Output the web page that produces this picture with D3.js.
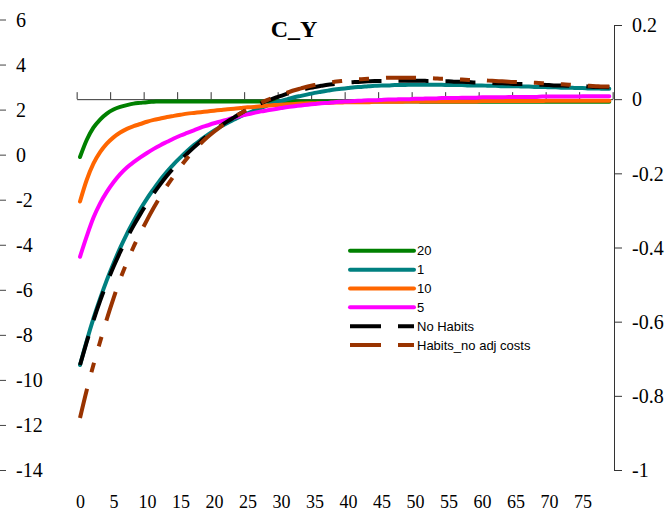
<!DOCTYPE html>
<html>
<head>
<meta charset="utf-8">
<script src="https://cdn.jsdelivr.net/npm/d3@7"></script>
<style>
	body { margin: 0; background: #fff; }
	svg { display: block; }
	.tick text { font-family: "Liberation Serif", "Times New Roman", serif; }
</style>
</head>
<body>
<svg id="chart" width="671" height="512"></svg>
<script>
// C_Y impulse responses, 80 periods

var periods = d3.range(0, 80)
var xTickLabels = d3.range(0, 80, 5)
var leftTicks = [6, 4, 2, 0, -2, -4, -6, -8, -10, -12, -14]
var rightTicks = [0.2, 0, -0.2, -0.4, -0.6, -0.8, -1]

var seriesNames = ['20', '1', '10', '5', 'No Habits', 'Habits_no adj costs']

var green20 = [
	-0.156, -0.110, -0.077, -0.055, -0.039, -0.028, -0.021, -0.016, -0.012, -0.010,
	-0.008, -0.007, -0.006, -0.006, -0.006, -0.006, -0.006, -0.006, -0.006, -0.006,
	-0.006, -0.006, -0.006, -0.006, -0.006, -0.006, -0.006, -0.006, -0.006, -0.006,
	-0.006, -0.006, -0.006, -0.006, -0.006, -0.006, -0.006, -0.006, -0.006, -0.006,
	-0.006, -0.006, -0.006, -0.006, -0.006, -0.006, -0.006, -0.006, -0.006, -0.006,
	-0.006, -0.007, -0.007, -0.007, -0.007, -0.007, -0.007, -0.007, -0.007, -0.007,
	-0.007, -0.007, -0.007, -0.007, -0.007, -0.007, -0.007, -0.007, -0.007, -0.007,
	-0.007, -0.007, -0.007, -0.007, -0.007, -0.007, -0.007, -0.007, -0.007, -0.007]

var teal1 = [
	-0.717, -0.652, -0.592, -0.538, -0.488, -0.443, -0.401, -0.363, -0.329, -0.297,
	-0.268, -0.242, -0.217, -0.195, -0.175, -0.157, -0.140, -0.124, -0.110, -0.097,
	-0.085, -0.074, -0.064, -0.055, -0.046, -0.038, -0.031, -0.024, -0.017, -0.011,
	-0.005, 0.000, 0.005, 0.009, 0.013, 0.017, 0.020, 0.023, 0.026, 0.028,
	0.030, 0.032, 0.033, 0.035, 0.036, 0.037, 0.037, 0.038, 0.038, 0.039,
	0.039, 0.039, 0.039, 0.039, 0.039, 0.038, 0.038, 0.038, 0.037, 0.037,
	0.037, 0.036, 0.036, 0.035, 0.035, 0.035, 0.034, 0.034, 0.033, 0.033,
	0.032, 0.032, 0.031, 0.031, 0.030, 0.030, 0.029, 0.029, 0.028, 0.028]

var orange10 = [
	-0.276, -0.218, -0.174, -0.143, -0.120, -0.103, -0.090, -0.080, -0.073, -0.067,
	-0.061, -0.056, -0.052, -0.048, -0.045, -0.042, -0.039, -0.037, -0.035, -0.033,
	-0.031, -0.029, -0.027, -0.026, -0.024, -0.022, -0.021, -0.019, -0.017, -0.016,
	-0.015, -0.014, -0.013, -0.012, -0.011, -0.011, -0.010, -0.010, -0.009, -0.009,
	-0.008, -0.008, -0.008, -0.008, -0.007, -0.007, -0.007, -0.007, -0.007, -0.006,
	-0.006, -0.006, -0.006, -0.006, -0.006, -0.006, -0.006, -0.006, -0.006, -0.006,
	-0.005, -0.005, -0.005, -0.005, -0.005, -0.005, -0.005, -0.005, -0.005, -0.005,
	-0.004, -0.004, -0.004, -0.004, -0.004, -0.004, -0.004, -0.004, -0.004, -0.004]

var magenta5 = [
	-0.425, -0.370, -0.320, -0.281, -0.250, -0.224, -0.202, -0.184, -0.170, -0.157,
	-0.145, -0.134, -0.124, -0.115, -0.106, -0.098, -0.091, -0.084, -0.077, -0.071,
	-0.065, -0.060, -0.055, -0.050, -0.045, -0.041, -0.037, -0.033, -0.030, -0.027,
	-0.024, -0.021, -0.019, -0.017, -0.015, -0.013, -0.011, -0.010, -0.008, -0.007,
	-0.006, -0.005, -0.004, -0.003, -0.003, -0.002, -0.001, -0.001, 0.000, 0.000,
	0.001, 0.001, 0.002, 0.002, 0.003, 0.003, 0.003, 0.004, 0.004, 0.004,
	0.005, 0.005, 0.005, 0.005, 0.006, 0.006, 0.006, 0.006, 0.006, 0.007,
	0.007, 0.007, 0.007, 0.007, 0.007, 0.008, 0.008, 0.008, 0.008, 0.008]

var noHabits = [
	-0.717, -0.655, -0.597, -0.544, -0.496, -0.452, -0.412, -0.375, -0.341, -0.310,
	-0.281, -0.254, -0.229, -0.206, -0.185, -0.165, -0.147, -0.130, -0.114, -0.099,
	-0.085, -0.072, -0.060, -0.049, -0.038, -0.028, -0.019, -0.011, -0.004, 0.003,
	0.009, 0.015, 0.020, 0.025, 0.029, 0.033, 0.036, 0.039, 0.041, 0.043,
	0.045, 0.046, 0.047, 0.048, 0.049, 0.049, 0.050, 0.050, 0.050, 0.050,
	0.050, 0.050, 0.049, 0.049, 0.048, 0.048, 0.047, 0.047, 0.046, 0.045,
	0.045, 0.044, 0.043, 0.043, 0.042, 0.041, 0.041, 0.040, 0.039, 0.039,
	0.038, 0.037, 0.037, 0.036, 0.035, 0.035, 0.034, 0.033, 0.033, 0.032]

var habitsNoAdj = [
	-0.860, -0.785, -0.717, -0.654, -0.593, -0.537, -0.485, -0.440, -0.398, -0.361,
	-0.326, -0.293, -0.262, -0.233, -0.207, -0.182, -0.159, -0.139, -0.120, -0.103,
	-0.088, -0.074, -0.061, -0.049, -0.038, -0.028, -0.019, -0.010, -0.002, 0.005,
	0.012, 0.018, 0.024, 0.029, 0.034, 0.038, 0.041, 0.044, 0.047, 0.049,
	0.051, 0.053, 0.054, 0.055, 0.056, 0.057, 0.058, 0.058, 0.058, 0.058,
	0.058, 0.057, 0.057, 0.056, 0.055, 0.055, 0.054, 0.053, 0.052, 0.051,
	0.051, 0.050, 0.049, 0.048, 0.047, 0.046, 0.046, 0.045, 0.044, 0.043,
	0.042, 0.041, 0.040, 0.039, 0.038, 0.037, 0.036, 0.035, 0.034, 0.034]

var seriesValues = [green20, teal1, orange10, magenta5, noHabits, habitsNoAdj]
var seriesColors = ['#008000', '#008080', '#ff6600', '#ff00ff', '#000000', '#993300']
var seriesDash = [null, null, null, null, '30,17', '30,17,10,17,10,17']

var serif = 'Liberation Serif'

var svg = d3.select('#chart')

// scales: categories sit between tick marks, like a category axis
var x = d3.scaleLinear().domain([-0.5, 79.5]).range([76.65, 612.65])
var yL = d3.scaleLinear().domain([-14, 6]).range([470, 19.5])
var yR = d3.scaleLinear().domain([-1, 0.2]).range([470, 25])

// title
svg.append('text')
	.attr('x', 294)
	.attr('y', 37)
	.attr('text-anchor', 'middle')
	.attr('font-family', serif)
	.attr('font-size', 24)
	.attr('font-weight', 'bold')
	.text('C_Y')

// left axis, ticks only
var leftAxis = svg.append('g')
	.attr('transform', 'translate(6,0)')
	.call(d3.axisLeft(yL).tickValues(leftTicks).tickSize(6).tickFormat(function(d) { return String(d) }))
	.attr('font-family', serif)
	.attr('font-size', 20)
leftAxis.select('.domain').remove()
leftAxis.selectAll('text')
	.attr('x', 10)
	.attr('dy', '0.34em')
	.attr('text-anchor', 'start')
	.attr('fill', '#000')
leftAxis.selectAll('line').attr('stroke', '#444')

// right axis
var rightAxis = svg.append('g')
	.attr('transform', 'translate(614,0)')
	.call(d3.axisRight(yR).tickValues(rightTicks).tickSize(8).tickPadding(10)
		.tickFormat(function(d) { return String(+d.toFixed(1)) }))
	.attr('font-family', serif)
	.attr('font-size', 20)
rightAxis.select('.domain')
	.attr('d', 'M0.5,' + yR(0.2) + 'V' + yR(-1))
	.attr('stroke', '#333')
rightAxis.selectAll('line').attr('stroke', '#333')
rightAxis.selectAll('text')
	.attr('dy', '0.34em')
	.attr('fill', '#000')

// horizontal axis crossing at 0 of the right scale
var xAxis = svg.append('g')
	.attr('transform', 'translate(0,' + yR(0) + ')')
	.call(d3.axisTop(x).tickValues(xTickLabels.map(function(d) { return d - 0.5 }).concat([79.5]))
		.tickSize(7).tickSizeOuter(0).tickFormat(''))
xAxis.select('.domain').attr('stroke', '#333')
xAxis.selectAll('line').attr('stroke', '#333')

// category labels along the bottom
var xLabels = svg.append('g')
	.attr('transform', 'translate(0,508)')
	.call(d3.axisBottom(x).tickValues(xTickLabels).tickSize(0).tickPadding(0))
	.attr('font-family', serif)
	.attr('font-size', 18)
xLabels.select('.domain').remove()
xLabels.selectAll('text')
	.attr('y', 0)
	.attr('dy', '0em')
	.attr('fill', '#000')

// series
var line = d3.line()
	.x(function(d, i) { return x(periods[i]) })
	.y(function(d) { return yR(d) })
	.curve(d3.curveMonotoneX)

svg.append('g')
	.selectAll('path')
	.data(seriesValues)
	.enter()
	.append('path')
	.attr('d', line)
	.attr('fill', 'none')
	.attr('stroke', function(d, i) { return seriesColors[i] })
	.attr('stroke-width', 4)
	.attr('stroke-linecap', function(d, i) { return seriesDash[i] ? 'butt' : 'round' })
	.attr('stroke-dasharray', function(d, i) { return seriesDash[i] })

// legend
var legend = svg.append('g')
	.selectAll('g')
	.data(seriesNames)
	.enter()
	.append('g')
	.attr('transform', function(d, i) { return 'translate(0,' + (250.8 + i * 18.85) + ')' })

legend.append('line')
	.attr('x1', 350)
	.attr('x2', 414)
	.attr('stroke', function(d, i) { return seriesColors[i] })
	.attr('stroke-width', 4)
	.attr('stroke-linecap', function(d, i) { return seriesDash[i] ? 'butt' : 'round' })
	.attr('stroke-dasharray', function(d, i) { return seriesDash[i] ? '31,17' : null })

legend.append('text')
	.attr('x', 417)
	.attr('dy', '0.36em')
	.attr('font-family', 'Liberation Sans')
	.attr('font-size', 13)
	.text(function(d) { return d })
</script>
</body>
</html>
